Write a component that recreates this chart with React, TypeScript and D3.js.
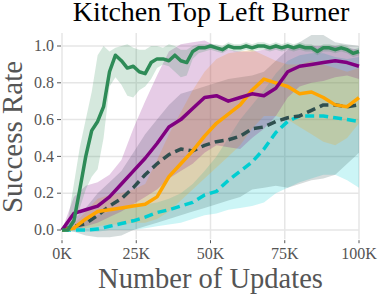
import React from "react";
import * as d3 from "d3";

// training steps (thousands)
const steps = [0, 4, 8, 12, 16, 20, 24, 28, 32, 36, 40, 44, 48, 52, 56, 60, 64, 68, 72, 76, 80, 84, 88, 92, 96, 100];
const greenSteps = [0, 2, 4, 6, 8, 10, 12, 14, 16, 18, 20, 22, 24, 26, 28, 30, 32, 34, 36, 38, 40, 42, 44, 46, 48, 50,
  52, 54, 56, 58, 60, 62, 64, 66, 68, 70, 72, 74, 76, 78, 80, 82, 84, 86, 88, 90, 92, 94, 96, 98, 100];

const greenMean = [0, 0, 0.05, 0.22, 0.4, 0.54, 0.59, 0.67, 0.86, 0.95, 0.92, 0.88, 0.89, 0.86, 0.85, 0.91, 0.93, 0.93, 0.92, 0.95, 0.92,
  0.91, 0.97, 0.99, 0.99, 1.0, 0.99, 0.98, 1.0, 0.99, 0.99, 1.0, 0.99, 1.0, 1.0, 0.99, 1.0, 0.99, 1.0, 0.99, 1.0, 0.99, 0.99, 0.97,
  0.99, 0.99, 0.98, 0.99, 0.98, 0.96, 0.97];
const greenLow = [0, 0, 0.03, 0.12, 0.22, 0.29, 0.33, 0.5, 0.78, 0.83, 0.79, 0.73, 0.72, 0.76, 0.78, 0.82, 0.88, 0.9, 0.89, 0.86, 0.83,
  0.84, 0.93, 0.96, 0.97, 0.98, 0.97, 0.96, 0.98, 0.97, 0.97, 0.98, 0.97, 0.98, 0.98, 0.97, 0.98, 0.97, 0.98, 0.97, 0.98, 0.97, 0.97,
  0.95, 0.97, 0.97, 0.96, 0.97, 0.96, 0.94, 0.95];
const greenHigh = [0, 0.05, 0.25, 0.45, 0.6, 0.75, 0.95, 1.0, 0.97, 0.99, 1.0, 1.01, 0.99, 0.98, 0.98, 1.0, 1.0, 0.99, 1.01, 1.0, 0.98,
  0.98, 1.0, 1.01, 1.01, 1.01, 1.01, 1.0, 1.02, 1.01, 1.01, 1.02, 1.01, 1.02, 1.02, 1.01, 1.02, 1.01, 1.02, 1.01, 1.02, 1.01, 1.01,
  0.99, 1.01, 1.01, 1.0, 1.01, 1.0, 0.98, 0.99];

const purpleMean = [0, 0.09, 0.11, 0.13, 0.18, 0.25, 0.32, 0.39, 0.47, 0.56, 0.6, 0.66, 0.72, 0.73, 0.7, 0.72, 0.74, 0.73, 0.77, 0.86, 0.89, 0.9, 0.91, 0.92, 0.91, 0.89];
const purpleLow = [0, 0, 0.02, 0.04, 0.07, 0.1, 0.14, 0.18, 0.22, 0.28, 0.32, 0.36, 0.42, 0.46, 0.45, 0.44, 0.5, 0.55, 0.62, 0.72, 0.78, 0.8, 0.81, 0.83, 0.84, 0.82];
const purpleHigh = [0, 0.18, 0.24, 0.26, 0.3, 0.38, 0.55, 0.7, 0.84, 0.97, 1.01, 1.02, 1.03, 1.0, 0.98, 0.97, 0.97, 0.98, 1.0, 1.0, 1.0, 1.0, 1.0, 1.0, 0.99, 0.98];

const orangeMean = [0, 0.01, 0.06, 0.1, 0.11, 0.12, 0.13, 0.14, 0.18, 0.29, 0.36, 0.43, 0.51, 0.58, 0.63, 0.68, 0.76, 0.82, 0.8, 0.78, 0.74, 0.75, 0.72, 0.68, 0.67, 0.72];
const orangeLow = [0, 0, 0.01, 0.02, 0.03, 0.03, 0.04, 0.04, 0.06, 0.1, 0.16, 0.22, 0.28, 0.34, 0.4, 0.46, 0.55, 0.62, 0.62, 0.6, 0.56, 0.52, 0.48, 0.46, 0.5, 0.58];
const orangeHigh = [0, 0.03, 0.1, 0.17, 0.19, 0.2, 0.22, 0.25, 0.38, 0.52, 0.64, 0.76, 0.86, 0.93, 0.96, 0.97, 0.98, 0.95, 0.92, 0.9, 0.9, 0.92, 0.9, 0.88, 0.86, 0.88];

const slateMean = [0, 0.02, 0.035, 0.08, 0.13, 0.17, 0.23, 0.3, 0.36, 0.41, 0.44, 0.43, 0.46, 0.48, 0.49, 0.51, 0.55, 0.56, 0.59, 0.61, 0.62, 0.65, 0.68, 0.68, 0.67, 0.68];
const slateLow = [0, -0.01, -0.03, -0.04, -0.04, -0.03, 0, 0.02, 0.04, 0.06, 0.08, 0.1, 0.12, 0.14, 0.16, 0.18, 0.22, 0.23, 0.24, 0.23, 0.25, 0.27, 0.28, 0.3, 0.36, 0.42];
const slateHigh = [0, 0.06, 0.12, 0.2, 0.26, 0.32, 0.42, 0.52, 0.6, 0.68, 0.74, 0.76, 0.78, 0.8, 0.82, 0.83, 0.84, 0.86, 0.92, 0.98, 1.02, 1.06, 1.06, 1.02, 1.01, 1.0];

const cyanMean = [0, 0, 0, 0.005, 0.02, 0.035, 0.05, 0.07, 0.095, 0.11, 0.13, 0.15, 0.19, 0.21, 0.27, 0.32, 0.37, 0.44, 0.53, 0.59, 0.62, 0.62, 0.62, 0.61, 0.6, 0.59];
const cyanLow = [0, -0.01, -0.01, -0.01, 0, 0, 0, 0.01, 0.02, 0.03, 0.04, 0.06, 0.08, 0.09, 0.11, 0.12, 0.13, 0.15, 0.2, 0.23, 0.26, 0.28, 0.3, 0.3, 0.27, 0.23];
const cyanHigh = [0, 0.02, 0.05, 0.08, 0.1, 0.12, 0.13, 0.14, 0.15, 0.17, 0.2, 0.25, 0.32, 0.4, 0.5, 0.6, 0.68, 0.76, 0.85, 0.92, 0.95, 0.96, 0.96, 0.94, 0.93, 0.94];

const yTicks = [0, 0.2, 0.4, 0.6, 0.8, 1.0];
const xTicks = [0, 25, 50, 75, 100];

const width = 379;
const height = 294;
const margin = { top: 46, right: 20, bottom: 64, left: 62 };

const series = [
  { name: "cyan", x: steps, mean: cyanMean, low: cyanLow, high: cyanHigh, color: "#00ced1", dash: "9,5" },
  { name: "slate", x: steps, mean: slateMean, low: slateLow, high: slateHigh, color: "#2f4f4f", dash: "9,5" },
  { name: "orange", x: steps, mean: orangeMean, low: orangeLow, high: orangeHigh, color: "#ffa500", dash: null },
  { name: "purple", x: steps, mean: purpleMean, low: purpleLow, high: purpleHigh, color: "#800080", dash: null },
  { name: "green", x: greenSteps, mean: greenMean, low: greenLow, high: greenHigh, color: "#2e8b57", dash: null },
];

const App = () => {
  const xScale = d3.scaleLinear().domain([0, 100]).range([margin.left, width - margin.right]);
  const yScale = d3.scaleLinear().domain([0, 1]).range([height - margin.bottom, margin.top]);

  const font = "'Liberation Serif', 'Times New Roman', serif";

  return (
    <svg width={width} height={height} style={{ position: "absolute", left: 0, top: 0, background: "#fff" }}>
      {/* grid */}
      {yTicks.map((t) => (
        <line key={"gy" + t} x1={xScale(0)} x2={xScale(100)} y1={yScale(t)} y2={yScale(t)} stroke="#e6e6e6" strokeWidth={1.5} />
      ))}
      {xTicks.map((t) => (
        <line key={"gx" + t} x1={xScale(t)} x2={xScale(t)} y1={yScale(1.07)} y2={yScale(-0.05)} stroke="#e6e6e6" strokeWidth={1.5} />
      ))}

      {/* bands */}
      {series.map((s) => {
        const area = d3
          .area<number>()
          .x((d, i) => xScale(s.x[i]))
          .y0((d, i) => yScale(s.low[i]))
          .y1((d, i) => yScale(s.high[i]));
        return <path key={"b" + s.name} d={area(s.mean) || ""} fill={s.color} fillOpacity={0.2} stroke="none" />;
      })}

      {/* mean lines */}
      {series.map((s) => {
        const line = d3
          .line<number>()
          .x((d, i) => xScale(s.x[i]))
          .y((d) => yScale(d));
        return (
          <path
            key={"l" + s.name}
            d={line(s.mean) || ""}
            fill="none"
            stroke={s.color}
            strokeWidth={3.5}
            strokeDasharray={s.dash || undefined}
            strokeLinejoin="round"
          />
        );
      })}

      {/* y axis ticks */}
      {yTicks.map((t) => (
        <g key={"yt" + t}>
          <line x1={xScale(0) - 5} x2={xScale(0) - 1} y1={yScale(t)} y2={yScale(t)} stroke="#555" strokeWidth={1} />
          <text x={xScale(0) - 8} y={yScale(t)} dy="0.33em" textAnchor="end" fontFamily={font} fontSize={16} fill="#555">
            {t.toFixed(1)}
          </text>
        </g>
      ))}

      {/* x axis ticks */}
      {xTicks.map((t) => (
        <g key={"xt" + t}>
          <line x1={xScale(t)} x2={xScale(t)} y1={yScale(-0.05) + 1} y2={yScale(-0.05) + 4} stroke="#555" strokeWidth={1} />
          <text x={xScale(t)} y={259} textAnchor="middle" fontFamily={font} fontSize={16} fill="#555">
            {t + "K"}
          </text>
        </g>
      ))}

      {/* labels */}
      <text x={(xScale(0) + xScale(100)) / 2} y={288} textAnchor="middle" fontFamily={font} fontSize={28.5} fill="#555">
        Number of Updates
      </text>
      <text
        transform={`translate(22,${(yScale(0) + yScale(1)) / 2 - 1}) rotate(-90)`}
        textAnchor="middle"
        fontFamily={font}
        fontSize={29}
        fill="#555"
      >
        Success Rate
      </text>
      <text x={211} y={21} textAnchor="middle" fontFamily={font} fontSize={28} fill="#000">
        Kitchen Top Left Burner
      </text>
    </svg>
  );
};

export default App;
